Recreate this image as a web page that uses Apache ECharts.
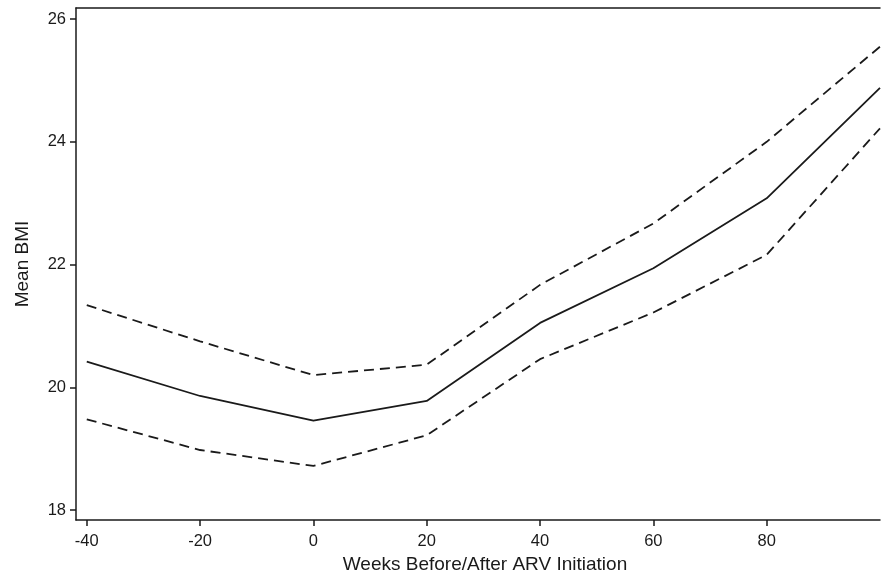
<!DOCTYPE html>
<html>
<head>
<meta charset="utf-8">
<script src="https://cdn.jsdelivr.net/npm/echarts@6/dist/echarts.min.js"></script>
<style>html,body{margin:0;padding:0;background:#fff}#c{width:881px;height:580px}</style>
</head>
<body>
<div id="c"></div>
<script>
var weeks = [-40, -20, 0, 20, 40, 60, 80, 100];
var meanBMI = [20.42, 19.86, 19.46, 19.78, 21.05, 21.94, 23.08, 24.88];
var upperCI = [21.34, 20.75, 20.20, 20.37, 21.67, 22.67, 24.00, 25.55];
var lowerCI = [19.48, 18.98, 18.72, 19.22, 20.46, 21.22, 22.16, 24.22];
var xTicks = [-40, -20, 0, 20, 40, 60, 80];
var yTicks = [18, 20, 22, 24, 26];

function pairs(vals){ return weeks.map(function(w,i){ return [w, vals[i]]; }); }

var chart = echarts.init(document.getElementById('c'), null, {renderer:'canvas'});
var font = 'Liberation Sans, Arial, sans-serif';
var ink = '#1a1a1a';
chart.setOption({
  animation: false,
  grid: {left: 76, right: 1, top: 8, bottom: 60},
  xAxis: [{
    type: 'value', min: -41.9, max: 100, position: 'bottom',
    name: 'Weeks Before/After ARV Initiation', nameLocation: 'middle', nameGap: 33,
    nameTextStyle: {fontFamily: font, fontSize: 19, color: ink, padding: [0,0,0,14]},
    axisLine: {show: true, onZero: false, lineStyle: {color: ink, width: 1.5}},
    axisTick: {show: true, length: 6, lineStyle: {color: ink, width: 1.5}, customValues: xTicks},
    axisLabel: {fontFamily: font, fontSize: 16.5, color: ink, margin: 13, customValues: xTicks},
    splitLine: {show: false}
  }, {
    type: 'value', min: -41.9, max: 100, position: 'top',
    axisLine: {show: true, onZero: false, lineStyle: {color: ink, width: 1.5}},
    axisTick: {show: false}, axisLabel: {show: false}, splitLine: {show: false}
  }],
  yAxis: {
    type: 'value', min: 17.84, max: 26.18, position: 'left',
    name: 'Mean BMI', nameLocation: 'middle', nameGap: 44, nameRotate: 90,
    nameTextStyle: {fontFamily: font, fontSize: 19, color: ink},
    axisLine: {show: true, onZero: false, lineStyle: {color: ink, width: 1.5}},
    axisTick: {show: true, length: 6, lineStyle: {color: ink, width: 1.5}, customValues: yTicks},
    axisLabel: {fontFamily: font, fontSize: 16.5, color: ink, margin: 10, customValues: yTicks},
    splitLine: {show: false}
  },
  series: [
    {type: 'line', data: pairs(upperCI), symbol: 'none', lineStyle: {color: ink, width: 1.8, type: [10, 6]}},
    {type: 'line', data: pairs(meanBMI), symbol: 'none', lineStyle: {color: ink, width: 1.8, type: 'solid'}},
    {type: 'line', data: pairs(lowerCI), symbol: 'none', lineStyle: {color: ink, width: 1.8, type: [10, 6]}}
  ]
});
</script>
</body>
</html>
